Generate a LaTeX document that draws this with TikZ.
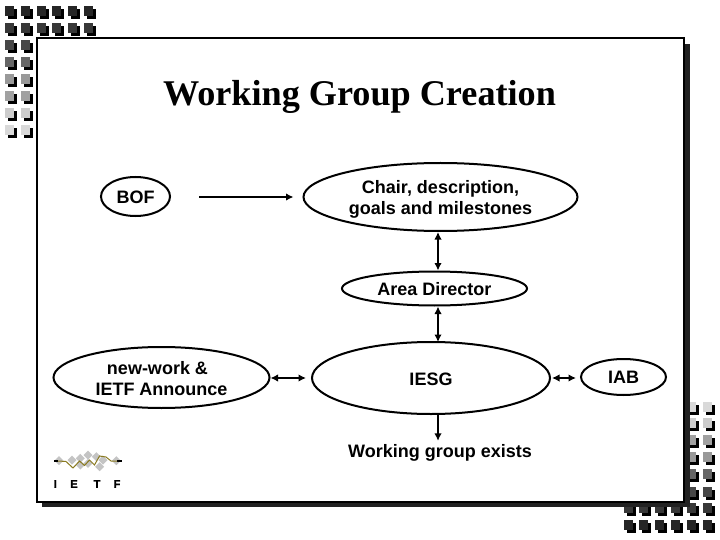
\documentclass[tikz,border=0pt]{standalone}
\usepackage{fontspec}
\setmainfont{Liberation Sans}
\newfontfamily\titlefont{Liberation Serif}
\newfontfamily\logofont[BoldFeatures={FakeBold=2}]{Liberation Sans}
\usetikzlibrary{shapes.geometric,arrows.meta}
\definecolor{shadowgray}{HTML}{222222}
\definecolor{logogray}{HTML}{C4C4C4}
\definecolor{logoline}{HTML}{8A7A20}
\tikzset{
  oval/.style={draw=black,line width=2pt,ellipse,inner sep=0pt,fill=white,font=\fontsize{18}{21}\selectfont\bfseries},
  lbl/.style={inner sep=0pt,align=center,font=\fontsize{18}{21}\selectfont\bfseries},
  link/.style={line width=2pt,-{Latex[length=7.5pt,width=7.5pt]}},
  linkb/.style={line width=2pt,{Latex[length=7.5pt,width=7.5pt]}-{Latex[length=7.5pt,width=7.5pt]}},
}
\newcommand{\sq}[3]{%
  \fill[black] (#1+3,#2+3) rectangle ++(9,10);
  \fill[#3] (#1,#2) rectangle ++(9,10);
}
\newcommand{\txtdn}[2]{\raisebox{-#1pt}[\height][\depth]{\begin{tabular}{@{}c@{}}#2\end{tabular}}}
\begin{document}
\begin{tikzpicture}[x=1pt,y=-1pt]
\useasboundingbox (0,0) rectangle (720,540);
\fill[white] (0,0) rectangle (720,540);
% top-left squares
\foreach \x in {5,21,37,52,68,84}{\sq{\x}{6}{black!85}\sq{\x}{22.7}{black!78}}
\foreach \x in {5,21}{
  \sq{\x}{40}{black!72}\sq{\x}{56.7}{black!60}\sq{\x}{74}{black!40}
  \sq{\x}{90.7}{black!37}\sq{\x}{108}{black!20}\sq{\x}{125}{black!15}}
% bottom-right squares
\foreach \x in {687,703}{
  \sq{\x}{401.7}{black!15}\sq{\x}{418}{black!20}\sq{\x}{435}{black!37}
  \sq{\x}{452}{black!40}\sq{\x}{469}{black!60}\sq{\x}{487}{black!72}}
\foreach \x in {624,639,655,671,687,703}{\sq{\x}{503}{black!78}\sq{\x}{520}{black!85}}
% slide frame
\fill[shadowgray] (42,44) rectangle (689.5,507);
\draw[line width=2pt,fill=white] (37,38.5) rectangle (684,502);
% title
\node[inner sep=0pt,font=\titlefont\fontsize{36.2}{40}\selectfont\bfseries] (title) at (359.5,97) {Working Group Creation};
% nodes
\node[oval,minimum width=69pt,minimum height=39pt] (bof) at (135.5,196.5) {\txtdn{3}{BOF}};
\node[oval,minimum width=274pt,minimum height=68pt] (chair) at (440.5,197) {\txtdn{2.5}{Chair, description,\\goals and milestones}};
\node[oval,minimum width=185pt,minimum height=34pt] (area) at (434.5,288.5) {\txtdn{2.5}{Area Director}};
\node[oval,minimum width=238pt,minimum height=72pt] (iesg) at (431,378) {\txtdn{3}{IESG}};
\node[oval,minimum width=216pt,minimum height=61pt] (announce) at (161.5,377.5) {\txtdn{3}{new-work \&\hspace*{8pt}\\IETF Announce}};
\node[oval,minimum width=85pt,minimum height=36pt] (iab) at (623.5,377) {\txtdn{2}{IAB}};
\node[lbl] (exists) at (440,452.5) {Working group exists};
% connectors
\draw[link,shorten <=28pt,shorten >=9pt] ([yshift=-.5pt]bof.east) -- (chair.west);
\draw[linkb] ([xshift=-2.5pt]chair.south) -- ([xshift=3.5pt]area.north);
\draw[linkb] ([xshift=3.5pt]area.south) -- ([xshift=7pt,yshift=-1pt]iesg.north);
\draw[link] ([xshift=7pt]iesg.south) -- ([xshift=-2pt,yshift=3pt]exists.north);
\draw[linkb] ([yshift=-.5pt]announce.east) -- ([xshift=-5pt]iesg.west);
\draw[linkb] ([xshift=1pt]iesg.east) -- ([xshift=-4pt,yshift=-1pt]iab.west);
% IETF logo
\foreach \x/\y in {59/460.7,72/460,80.3/458.3,88/455,96.3/456.7,103/460,80.3/465,88/463.3,99.7/466.7,116.3/460.7}{
  \fill[logogray] (\x-4.5,\y) -- (\x,\y-4.5) -- (\x+4.5,\y) -- (\x,\y+4.5) -- cycle;}
\draw[line width=1.5pt,black] (54,461) -- (58,461);
\draw[line width=1.5pt,black] (117,461) -- (121.5,461);
\draw[line width=1pt,logoline] (58,461) -- (66,461.5) -- (73,468) -- (79.5,461) -- (84.5,465.5) -- (89.5,460) -- (94.5,465) -- (99.5,456) -- (106,457) -- (111,461) -- (117,461);
\foreach \x/\l in {55.3/I,74/E,97/T,117/F}{
  \node[inner sep=0pt,font=\logofont\bfseries\fontsize{11}{12}\selectfont] (logo\l) at (\x,484) {\l};}
\end{tikzpicture}
\end{document}
